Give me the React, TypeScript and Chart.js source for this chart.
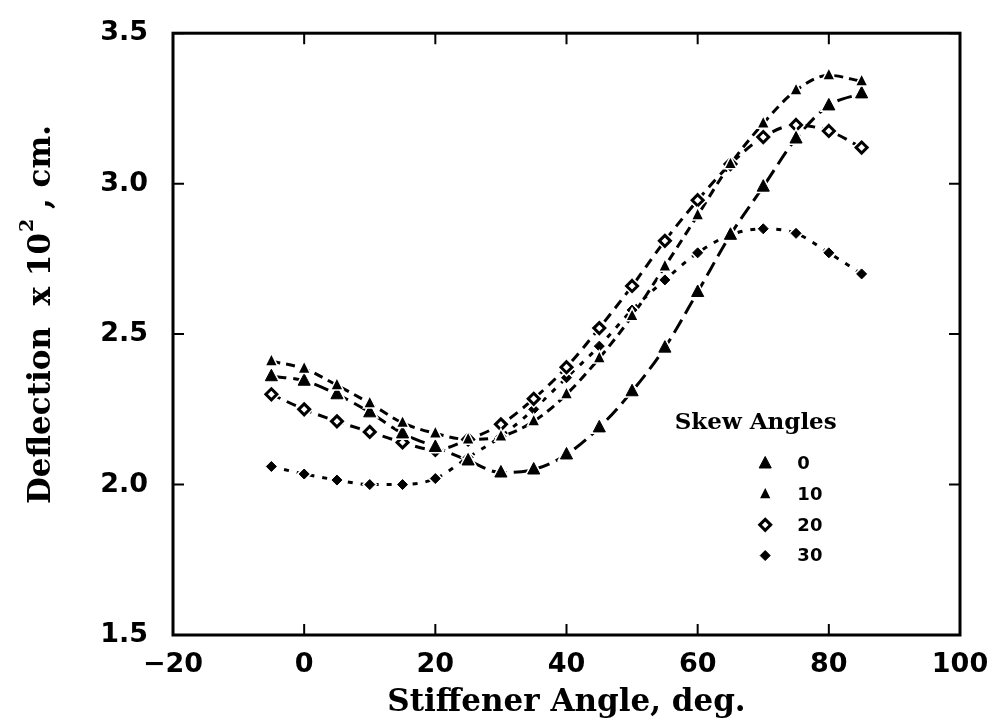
import React, { useEffect, useRef } from "react";
import { Chart, registerables } from "chart.js";

Chart.register(...registerables);

const stiffenerAngles = [-5, 0, 5, 10, 15, 20, 25, 30, 35, 40, 45, 50, 55, 60, 65, 70, 75, 80, 85];
const skew0 = [2.36, 2.345, 2.30, 2.24, 2.17, 2.125, 2.08, 2.04, 2.05, 2.10, 2.19, 2.31, 2.455, 2.64, 2.83, 2.99, 3.15, 3.26, 3.30];
const skew10 = [2.41, 2.385, 2.33, 2.27, 2.205, 2.17, 2.15, 2.16, 2.21, 2.30, 2.42, 2.56, 2.725, 2.895, 3.065, 3.20, 3.31, 3.36, 3.34];
const skew20 = [2.30, 2.25, 2.21, 2.175, 2.14, 2.115, 2.15, 2.20, 2.285, 2.39, 2.52, 2.66, 2.81, 2.945, 3.065, 3.155, 3.195, 3.175, 3.12];
const skew30 = [2.06, 2.035, 2.015, 2.00, 2.00, 2.02, 2.09, 2.16, 2.25, 2.355, 2.46, 2.58, 2.68, 2.77, 2.83, 2.85, 2.835, 2.77, 2.70];
const skewLabels = ["0", "10", "20", "30"];
const xTicks = [-20, 0, 20, 40, 60, 80, 100];
const yTicks = [1.5, 2.0, 2.5, 3.0, 3.5];

const BLACK = "#000";
const TITLE_FONT = "'DejaVu Serif'";
const LEGEND_FONT = "'DejaVu Serif'";
const TICK_FONT = "'DejaVu Sans'";

const markerStyles = [
  { pointStyle: "triangle", radius: 7, fill: BLACK, border: 1 },
  { pointStyle: "triangle", radius: 4.5, fill: BLACK, border: 1.5 },
  { pointStyle: "rectRot", radius: 5.5, fill: "#fff", border: 3 },
  { pointStyle: "rectRot", radius: 5, fill: BLACK, border: 1 },
];
const dashes = [[15, 7], [9, 6], [10, 7], [5, 8]];
const drawOrder = [3, 2, 0, 1];

function markerPath(ctx: CanvasRenderingContext2D, style: any, x: number, y: number) {
  const r = style.radius;
  ctx.beginPath();
  if (style.pointStyle === "triangle") {
    ctx.moveTo(x, y - r);
    ctx.lineTo(x + r * Math.cos(Math.PI / 6), y + r * 0.5 + 1);
    ctx.lineTo(x - r * Math.cos(Math.PI / 6), y + r * 0.5 + 1);
  } else {
    ctx.moveTo(x, y - r);
    ctx.lineTo(x + r, y);
    ctx.lineTo(x, y + r);
    ctx.lineTo(x - r, y);
  }
  ctx.closePath();
}

function drawMarker(ctx: CanvasRenderingContext2D, style: any, x: number, y: number, halo = 0) {
  ctx.save();
  ctx.setLineDash([]);
  ctx.lineJoin = "miter";
  if (halo > 0) {
    markerPath(ctx, style, x, y);
    ctx.strokeStyle = "#fff";
    ctx.fillStyle = "#fff";
    ctx.lineWidth = style.border + halo * 2;
    ctx.fill();
    ctx.stroke();
  }
  markerPath(ctx, style, x, y);
  ctx.fillStyle = style.fill;
  ctx.strokeStyle = BLACK;
  ctx.lineWidth = style.border;
  ctx.fill();
  ctx.stroke();
  ctx.restore();
}

const markerPlugin = {
  id: "haloMarkers",
  afterDatasetsDraw(chart: any) {
    const { ctx } = chart;
    drawOrder.forEach((i) => {
      const meta = chart.getDatasetMeta(i);
      meta.data.forEach((pt: any) => {
        drawMarker(ctx, markerStyles[i], pt.x, pt.y, 1.5);
      });
    });
  },
};

const framePlugin = {
  id: "frameTicks",
  afterDraw(chart: any) {
    const { ctx, chartArea, scales } = chart;
    const { left, right, top, bottom } = chartArea;
    ctx.save();
    ctx.strokeStyle = BLACK;
    ctx.lineWidth = 3;
    ctx.setLineDash([]);
    ctx.strokeRect(left, top, right - left, bottom - top);
    ctx.lineWidth = 2;
    const tl = 11;
    xTicks.forEach((v) => {
      const px = scales.x.getPixelForValue(v);
      ctx.beginPath();
      ctx.moveTo(px, bottom);
      ctx.lineTo(px, bottom - tl);
      ctx.moveTo(px, top);
      ctx.lineTo(px, top + tl);
      ctx.stroke();
    });
    yTicks.forEach((v) => {
      const py = scales.y.getPixelForValue(v);
      ctx.beginPath();
      ctx.moveTo(left, py);
      ctx.lineTo(left + tl, py);
      ctx.moveTo(right, py);
      ctx.lineTo(right - tl, py);
      ctx.stroke();
    });

    // y-axis title with superscript
    ctx.fillStyle = BLACK;
    ctx.save();
    ctx.translate(42, scales.y.getPixelForValue(2.565));
    ctx.rotate(-Math.PI / 2);
    ctx.textBaseline = "middle";
    ctx.textAlign = "left";
    const mainFont = `bold 31px ${TITLE_FONT}`;
    const supFont = `bold 19px ${TITLE_FONT}`;
    const p1 = "Deflection  x 10";
    const p2 = "2";
    const p3 = " , cm.";
    ctx.font = mainFont;
    const w1 = ctx.measureText(p1).width;
    const w3 = ctx.measureText(p3).width;
    ctx.font = supFont;
    const w2 = ctx.measureText(p2).width;
    const total = w1 + w2 + w3;
    let cx = -total / 2;
    ctx.font = mainFont;
    ctx.fillText(p1, cx, 0);
    cx += w1;
    ctx.font = supFont;
    ctx.fillText(p2, cx + 1, -14);
    cx += w2;
    ctx.font = mainFont;
    ctx.fillText(p3, cx, 0);
    ctx.restore();

    // legend
    const titleRight = scales.x.getPixelForValue(81.2);
    const ty = scales.y.getPixelForValue(2.205);
    ctx.fillStyle = BLACK;
    ctx.font = `bold 23px ${LEGEND_FONT}`;
    ctx.textAlign = "right";
    ctx.textBaseline = "middle";
    ctx.fillText("Skew Angles", titleRight, ty);
    const mx = scales.x.getPixelForValue(70.3);
    const tx = scales.x.getPixelForValue(75.2);
    ctx.font = `bold 18px ${TICK_FONT}`;
    ctx.textAlign = "left";
    skewLabels.forEach((lab, i) => {
      const yy = scales.y.getPixelForValue(2.07 - i * 0.102);
      drawMarker(ctx, markerStyles[i], mx, yy);
      ctx.fillStyle = BLACK;
      ctx.fillText(lab, tx, yy + 1);
    });
    ctx.restore();
  },
};

export default function App() {
  const ref = useRef<HTMLCanvasElement | null>(null);
  useEffect(() => {
    if (!ref.current) return;
    const series = [skew0, skew10, skew20, skew30];
    const chart = new Chart(ref.current, {
      type: "line",
      data: {
        datasets: series.map((vals, i) => ({
          label: skewLabels[i],
          data: stiffenerAngles.map((x, j) => ({ x, y: vals[j] })),
          borderColor: BLACK,
          borderWidth: 3,
          borderDash: dashes[i],
          backgroundColor: markerStyles[i].fill,
          pointBorderColor: BLACK,
          pointBorderWidth: markerStyles[i].border,
          pointStyle: markerStyles[i].pointStyle as any,
          pointRadius: markerStyles[i].radius,
          cubicInterpolationMode: "monotone" as any,
          fill: false,
        })),
      },
      options: {
        animation: false,
        responsive: false,
        layout: { padding: { left: 0, top: 28, right: 35, bottom: 0 } },
        plugins: { legend: { display: false }, tooltip: { enabled: false } },
        scales: {
          x: {
            type: "linear",
            min: -20,
            max: 100,
            afterBuildTicks: (scale: any) => {
              scale.ticks = xTicks.map((v) => ({ value: v }));
            },
            afterFit: (scale: any) => {
              scale.height = 91;
            },
            grid: { display: false },
            border: { display: false },
            ticks: {
              color: BLACK,
              padding: 6,
              font: { family: TICK_FONT, weight: "bold", size: 27 },
              callback: (v: any) => (Number(v) < 0 ? "\u2212" + Math.abs(Number(v)) : String(v)),
              maxRotation: 0,
            },
            title: {
              display: true,
              text: "Stiffener Angle, deg.",
              color: BLACK,
              font: { family: TITLE_FONT, weight: "bold", size: 31 },
              padding: { top: 0, bottom: 4 },
            },
          },
          y: {
            type: "linear",
            min: 1.5,
            max: 3.5,
            afterBuildTicks: (scale: any) => {
              scale.ticks = yTicks.map((v) => ({ value: v }));
            },
            afterFit: (scale: any) => {
              scale.width = 173;
            },
            grid: { display: false },
            border: { display: false },
            ticks: {
              color: BLACK,
              padding: 17,
              font: { family: TICK_FONT, weight: "bold", size: 27 },
              callback: (v: any) => Number(v).toFixed(1),
            },
          },
        },
      },
      plugins: [markerPlugin, framePlugin],
    });
    return () => chart.destroy();
  }, []);
  return (
    <div style={{ position: "fixed", left: 0, top: 0, width: 995, height: 726, background: "#fff" }}>
      <canvas ref={ref} width={995} height={726} style={{ width: 995, height: 726 }} />
    </div>
  );
}
